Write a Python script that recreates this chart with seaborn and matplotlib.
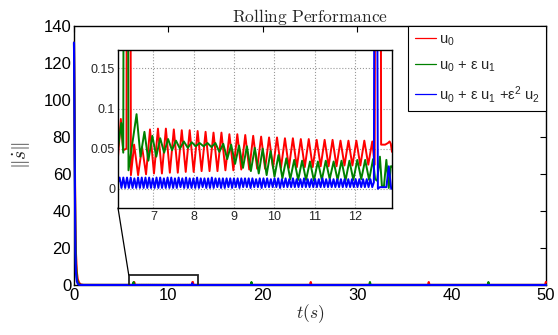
import numpy as np
import seaborn as sns
import matplotlib.pyplot as plt
from matplotlib.patches import Rectangle, ConnectionPatch

sns.set_style("white")
plt.rcParams['font.family'] = ['Liberation Sans', 'DejaVu Sans']
plt.rcParams['mathtext.fontset'] = 'custom'
plt.rcParams['mathtext.rm'] = 'Liberation Sans'
plt.rcParams['mathtext.it'] = 'Liberation Sans:italic'

labels = ['u$_0$', 'u$_0$ + ε u$_1$', 'u$_0$ + ε u$_1$ +ε$^2$ u$_2$']
colors = ['#ff0000', '#008000', '#0000ff']

# start-up transient, shared time base
t_start = [0.0, 0.05, 0.1, 0.15, 0.2, 0.3, 0.4, 0.55, 0.7, 1.0, 3.0, 6.0, 6.12]
red_start = [131, 100, 62, 34, 18, 7, 3.0, 1.2, 0.3, 0.06, 0.05, 0.045, 0.040]
green_start = [131, 95, 55, 26, 12, 4, 1.4, 0.4, 0.12, 0.06, 0.055, 0.052, 0.051]
blue_start = [131, 90, 50, 18, 7, 2, 0.6, 0.1, 0.02, 0.01, 0.008, 0.008, 0.008]

# red: detail
red_pre_t = [6.19, 6.25, 6.33, 6.38, 6.44]
red_pre_v = [0.087, 0.048, 0.050, 1.6, 0.017]
red_peaks = [0.055, 0.052, 0.074, 0.075, 0.075, 0.074, 0.073, 0.073, 0.072, 0.071,
             0.070, 0.070, 0.068, 0.068, 0.067, 0.066, 0.065, 0.064, 0.064, 0.063,
             0.063, 0.062, 0.062, 0.061, 0.061, 0.061, 0.060, 0.060, 0.060, 0.060, 0.059]
red_troughs = [0.017, 0.018, 0.019, 0.019, 0.020, 0.020, 0.021, 0.021, 0.022, 0.022,
               0.022, 0.023, 0.023, 0.024, 0.024, 0.025, 0.025, 0.026, 0.026, 0.026,
               0.027, 0.027, 0.027, 0.028, 0.028, 0.028, 0.029, 0.029, 0.029, 0.030]
red_post_t = [12.49, 12.55, 12.60, 12.65, 12.75, 12.82, 12.86, 12.89, 12.92]
red_post_v = [0.030, 1.6, 1.6, 0.055, 0.055, 0.057, 0.059, 0.056, 0.046]
red_late_t = [13.0, 25.0, 25.08, 25.16, 37.5, 37.58, 37.66, 49.9, 49.98, 50.0]
red_late_v = [0.05, 0.05, 1.6, 0.05, 0.05, 1.6, 0.05, 0.05, 1.6, 1.6]

# green
green_pre_t = [6.20, 6.25, 6.31, 6.38]
green_pre_v = [0.082, 0.045, 1.6, 0.023]
green_peaks = [0.093, 0.071, 0.066, 0.063, 0.062, 0.060, 0.059, 0.058, 0.057, 0.057,
               0.057, 0.056, 0.055, 0.054, 0.053, 0.051, 0.050, 0.047, 0.042, 0.038,
               0.036, 0.035, 0.034, 0.034, 0.035, 0.034, 0.035, 0.035, 0.036, 0.036, 0.037]
green_troughs = [0.040, 0.035, 0.040, 0.045, 0.048, 0.050, 0.051, 0.053, 0.053, 0.052,
                 0.046, 0.037, 0.031, 0.026, 0.022, 0.019, 0.017, 0.015, 0.013, 0.012,
                 0.011, 0.011, 0.010, 0.011, 0.012, 0.011, 0.010, 0.011, 0.012, 0.011]
green_post_t = [12.50, 12.55, 12.62, 12.67, 12.72, 12.78, 12.84, 12.89, 12.92]
green_post_v = [0.012, 0.010, 0.040, 0.003, 0.003, 0.036, 0.001, 0.028, 0.028]
green_late_t = [13.0, 18.72, 18.8, 18.88, 31.27, 31.35, 31.43, 43.82, 43.9, 43.98, 50.0]
green_late_v = [0.03, 0.03, 1.6, 0.03, 0.03, 1.6, 0.03, 0.03, 1.6, 0.03, 0.03]

# blue
blue_peaks = [0.014, 0.014, 0.014, 0.014, 0.013, 0.014, 0.014, 0.014, 0.014, 0.013,
              0.014, 0.014, 0.013, 0.014, 0.014, 0.013, 0.014, 0.013, 0.014, 0.013,
              0.013, 0.014, 0.013, 0.013, 0.013, 0.014, 0.013, 0.013, 0.013, 0.013,
              0.013, 0.013, 0.013, 0.013, 0.013, 0.013, 0.013, 0.012, 0.013, 0.013,
              0.013, 0.012, 0.013, 0.013, 0.012, 0.013, 0.012, 0.013, 0.012, 0.012,
              0.013, 0.012, 0.012, 0.012, 0.012, 0.013, 0.012, 0.012, 0.012, 0.012,
              0.012, 0.012, 0.012, 0.012, 0.012, 0.012, 0.012, 0.012, 0.012]
blue_troughs = [0.001, 0.001, 0.001, 0.001, 0.001, 0.001, 0.001, 0.001, 0.001, 0.001,
                0.001, 0.001, 0.001, 0.001, 0.001, 0.001, 0.002, 0.001, 0.001, 0.001,
                0.001, 0.001, 0.002, 0.001, 0.001, 0.001, 0.002, 0.001, 0.001, 0.002,
                0.001, 0.002, 0.001, 0.002, 0.002, 0.001, 0.002, 0.002, 0.001, 0.002,
                0.002, 0.002, 0.002, 0.001, 0.002, 0.002, 0.002, 0.002, 0.002, 0.002,
                0.002, 0.002, 0.002, 0.002, 0.002, 0.002, 0.002, 0.002, 0.002, 0.002,
                0.002, 0.002, 0.002, 0.002, 0.002, 0.002, 0.002, 0.002, 0.002]
blue_post_t = [12.47, 12.51, 12.57, 12.62, 12.78, 12.84, 12.90, 12.92]
blue_post_v = [0.008, 0.9, 0.0, 0.002, 0.002, 0.028, 0.0, 0.0]
blue_late_t = [13.0, 50.0]
blue_late_v = [0.006, 0.006]


def interleave(a, b):
    out = []
    for i in range(len(b)):
        out += [a[i], b[i]]
    if len(a) > len(b):
        out.append(a[-1])
    return out


red_osc = interleave(red_peaks, red_troughs)
green_osc = interleave(green_peaks, green_troughs)
blue_osc = interleave(blue_peaks, blue_troughs)

red_t = np.concatenate([t_start, red_pre_t, np.linspace(6.52, 12.43, len(red_osc)), red_post_t, red_late_t])
red_v = np.concatenate([red_start, red_pre_v, red_osc, red_post_v, red_late_v])
green_t = np.concatenate([t_start, green_pre_t, np.linspace(6.58, 12.45, len(green_osc)), green_post_t, green_late_t])
green_v = np.concatenate([green_start, green_pre_v, green_osc, green_post_v, green_late_v])
blue_t = np.concatenate([t_start, np.linspace(6.16, 12.43, len(blue_osc)), blue_post_t, blue_late_t])
blue_v = np.concatenate([blue_start, blue_osc, blue_post_v, blue_late_v])

series = [(red_t, red_v), (green_t, green_v), (blue_t, blue_v)]

fig = plt.figure(figsize=(5.58, 3.35), dpi=100)
ax = fig.add_axes([0.1326, 0.1493, 0.8459, 0.7731])

for (t, v), c, lab in zip(series, colors, labels):
    sns.lineplot(x=t, y=v, ax=ax, color=c, lw=1.5, estimator=None, sort=False,
                 label=lab, clip_on=False, zorder=3)

ax.set_xlim(0, 50)
ax.set_ylim(0, 140)
ax.set_xticks(range(0, 51, 10))
ax.set_yticks(range(0, 141, 20))
ax.tick_params(direction='in', top=True, right=True, length=4, width=0.8,
               labelsize=12, pad=2, colors='black')
for s in ax.spines.values():
    s.set_linewidth(1.0)
    s.set_color('black')

ax.set_title(r'$\mathrm{Rolling\ Performance}$', fontsize=12.5, math_fontfamily='cm', pad=3)
ax.set_xlabel(r'$t(s)$', fontsize=12.5, math_fontfamily='cm', labelpad=0)
ax.set_ylabel(r'$\|\dot{s}\|$', fontsize=14, math_fontfamily='cm', labelpad=8)

# zoom box on the main axes
ax.add_patch(Rectangle((5.8, -0.3), 7.3, 5.7, fill=False, edgecolor='#222222', lw=1.3, zorder=4))

leg = ax.legend(loc='upper right', bbox_to_anchor=(1, 1), borderaxespad=0, fancybox=False,
                edgecolor='black', framealpha=1, fontsize=10.5, handlelength=1.5,
                handletextpad=0.15, labelspacing=0.7, borderpad=0.45)
leg.get_frame().set_linewidth(0.8)
for h in leg.get_lines():
    h.set_linewidth(0.9)

# inset
axi = fig.add_axes([0.2115, 0.3791, 0.491, 0.4716])
for (t, v), c in zip(series, colors):
    sns.lineplot(x=t, y=v, ax=axi, color=c, lw=1.4, estimator=None, sort=False)
axi.set_xlim(6.12, 12.92)
axi.set_ylim(-0.024, 0.173)
axi.set_xticks(range(7, 13))
axi.set_yticks([0, 0.05, 0.1, 0.15])
axi.set_yticklabels(['0', '0.05', '0.1', '0.15'])
axi.tick_params(direction='in', length=3, width=0.8, labelsize=9, pad=2)
axi.grid(True, linestyle=':', color='#999999', lw=0.8)
for s in axi.spines.values():
    s.set_linewidth(1.0)
    s.set_color('black')

con = ConnectionPatch(xyA=(6.12, -0.024), coordsA=axi.transData,
                      xyB=(5.8, 5.4), coordsB=ax.transData, color='black', lw=0.9)
fig.add_artist(con)

fig.savefig('out.png', dpi=100)
